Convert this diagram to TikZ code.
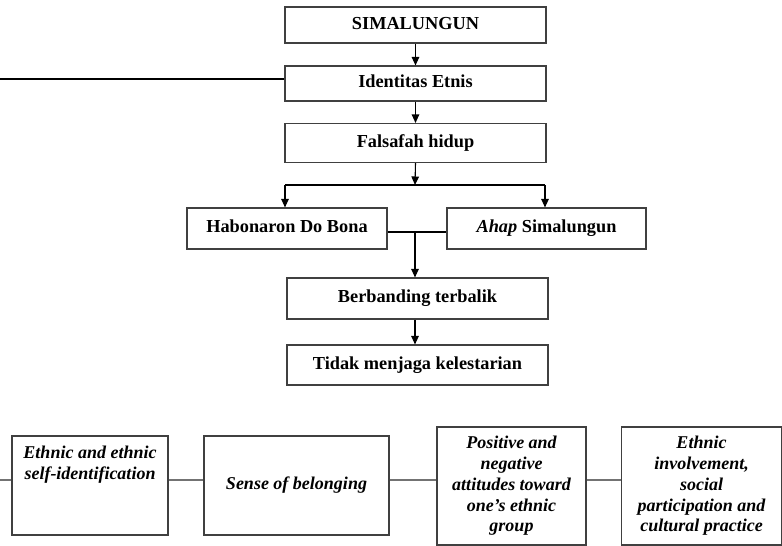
\documentclass[tikz,border=0pt]{standalone}
\usepackage{fontspec}
\setmainfont{Liberation Serif}
\usetikzlibrary{arrows.meta}

\begin{document}
\begin{tikzpicture}[x=1pt, y=-1pt,
  box/.style={draw=black!75, line width=1.1pt, inner sep=0pt, align=center},
  tbox/.style={box, text height=12.5pt, text depth=4pt,
    font=\fontsize{18.3}{21}\selectfont\bfseries},
  ibox/.style={box, font=\fontsize{18}{20.8}\selectfont\bfseries\itshape},
  arr/.style={-{Triangle[length=8.5pt,width=7.5pt]}, line width=1.1pt},
  link/.style={draw=black!55, line width=1.1pt},
]
  \useasboundingbox (0,0) rectangle (782,546);
  % 上半部分
  \node[tbox, minimum width=261pt, minimum height=36pt] (simal) at (415.5,25) {SIMALUNGUN};
  \node[tbox, minimum width=261pt, minimum height=35pt] (ident) at (415.5,83.5) {Identitas Etnis};
  \node[tbox, minimum width=261pt, minimum height=39pt] (falsafah) at (415.5,143) {Falsafah hidup};
  \node[tbox, minimum width=200pt, minimum height=41pt] (habon) at (287,228.5) {Habonaron Do Bona};
  \node[tbox, minimum width=199pt, minimum height=41pt] (ahap) at (546.5,228.5) {{\itshape Ahap} Simalungun};
  \node[tbox, minimum width=261pt, minimum height=41pt] (berband) at (417.5,298.5) {Berbanding terbalik};
  \node[tbox, minimum width=261pt, minimum height=40pt] (tidak) at (417.5,365) {Tidak menjaga kelestarian};

  \coordinate (leftEnd) at (0,79);
  \coordinate (fork) at (415,185);
  \coordinate (forkL) at (285,185);
  \coordinate (forkR) at (545,185);
  \coordinate (merge) at (415,232);

  \draw[line width=1.1pt] (leftEnd) -- (ident.west |- leftEnd);
  \draw[arr] (simal.south) -- (ident.north);
  \draw[arr] (ident.south) -- (falsafah.north);
  \draw[arr] (falsafah.south) -- (fork);
  \draw[line width=1.1pt] (forkL) -- (forkR);
  \draw[arr] (forkL) -- (forkL |- habon.north);
  \draw[arr] (forkR) -- (forkR |- ahap.north);
  \draw[line width=1.1pt] (habon.east |- merge) -- (ahap.west |- merge);
  \draw[arr] (merge) -- (merge |- berband.north);
  \draw[arr] (berband.south -| merge) -- (tidak.north -| merge);

  % 下半部分
  \node[ibox, minimum width=156pt, minimum height=99pt] (ethnic) at (90,485.5)
    {\parbox[c][99pt][t]{156pt}{\centering\vspace*{10.5pt}Ethnic and ethnic\\ self-identification}};
  \node[ibox, minimum width=185pt, minimum height=99pt] (sense) at (296.5,485.5)
    {\raisebox{-4pt}{Sense of belonging}};
  \node[ibox, minimum width=149pt, minimum height=118pt] (positive) at (511.5,486)
    {Positive and\\ negative\\ attitudes toward\\ one’s ethnic\\ group};
  \node[ibox, minimum width=160pt, minimum height=118pt] (involve) at (701.5,486)
    {Ethnic\\ involvement,\\ social\\ participation and\\ cultural practice};

  \coordinate (lineY) at (0,480);
  \draw[link] (lineY) -- (ethnic.west |- lineY);
  \draw[link] (ethnic.east |- lineY) -- (sense.west |- lineY);
  \draw[link] (sense.east |- lineY) -- (positive.west |- lineY);
  \draw[link] (positive.east |- lineY) -- (involve.west |- lineY);
\end{tikzpicture}
\end{document}
